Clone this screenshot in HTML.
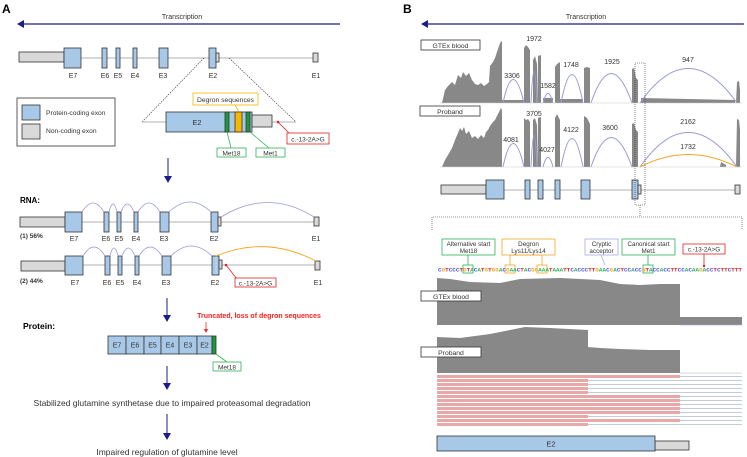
<!DOCTYPE html>
<html><head><meta charset="utf-8"><style>
html,body{margin:0;padding:0;background:#fff;}
svg{display:block;font-family:"Liberation Sans",Arial,sans-serif;}
</style></head><body>
<svg width="747" height="457" viewBox="0 0 747 457" xmlns="http://www.w3.org/2000/svg">
<!-- PANEL A -->
<text x="2" y="13" font-size="12" font-weight="bold">A</text>
<text x="182" y="19" font-size="7" text-anchor="middle" fill="#333">Transcription</text>
<line x1="340" y1="24" x2="22" y2="24" stroke="#1c1c8c" stroke-width="1.2"/>
<path d="M17,24 L24,20 L24,28 Z" fill="#1c1c8c"/>

<g stroke="#333" stroke-width="0.8">
<line x1="64" y1="58" x2="315" y2="58" stroke="#999"/>
<rect x="19" y="52" width="45" height="10" fill="#d9d9d9"/>
<rect x="64" y="48" width="17" height="20" fill="#a8c8e8"/>
<rect x="102" y="48" width="5" height="20" fill="#a8c8e8"/>
<rect x="116" y="48" width="4" height="20" fill="#a8c8e8"/>
<rect x="133" y="48" width="4" height="20" fill="#a8c8e8"/>
<rect x="159" y="48" width="9" height="20" fill="#a8c8e8"/>
<rect x="209" y="48" width="7" height="20" fill="#a8c8e8"/>
<rect x="216" y="53" width="3" height="9" fill="#d9d9d9"/>
<rect x="313" y="53" width="5" height="9" fill="#d9d9d9"/>
</g>
<g font-size="7" text-anchor="middle" fill="#333">
<text x="73" y="78">E7</text><text x="105" y="78">E6</text><text x="118" y="78">E5</text><text x="135" y="78">E4</text><text x="163" y="78">E3</text><text x="213" y="78">E2</text><text x="316" y="78">E1</text>
</g>
<line x1="204" y1="58" x2="142" y2="122" stroke="#333" stroke-width="0.6" stroke-dasharray="1.5,1"/>
<line x1="229" y1="58" x2="296" y2="122" stroke="#333" stroke-width="0.6" stroke-dasharray="1.5,1"/>
<line x1="142" y1="122" x2="296" y2="122" stroke="#999" stroke-width="0.8"/>
<g stroke="#333" stroke-width="0.8">
<rect x="166" y="112" width="86" height="20" fill="#a8c8e8"/>
<rect x="225" y="112" width="4" height="20" fill="#1a9a3a"/>
<rect x="235" y="112" width="7" height="20" fill="#f5b800"/>
<rect x="246" y="112" width="4" height="20" fill="#1a9a3a"/>
<rect x="252" y="115" width="20" height="12" fill="#d9d9d9"/>
</g>
<text x="197" y="125" font-size="7.5" text-anchor="middle" fill="#333">E2</text>
<rect x="193" y="93" width="65" height="12" fill="#fff" stroke="#f5b800" stroke-width="0.8"/>
<text x="225.5" y="102" font-size="6.8" text-anchor="middle" fill="#333">Degron sequences</text>
<line x1="235" y1="105" x2="239" y2="112" stroke="#f5b800" stroke-width="0.8"/>
<line x1="227" y1="132" x2="231" y2="148" stroke="#2db35a" stroke-width="0.8"/>
<line x1="250" y1="132" x2="269" y2="148" stroke="#2db35a" stroke-width="0.8"/>
<rect x="217" y="148" width="29" height="9" fill="#fff" stroke="#2db35a" stroke-width="0.8"/>
<text x="231.5" y="155.3" font-size="6.5" text-anchor="middle" fill="#333">Met18</text>
<rect x="256" y="148" width="29" height="9" fill="#fff" stroke="#2db35a" stroke-width="0.8"/>
<text x="270.5" y="155.3" font-size="6.5" text-anchor="middle" fill="#333">Met1</text>
<circle cx="278" cy="122" r="1.3" fill="#e02020"/>
<line x1="278" y1="122" x2="290" y2="134" stroke="#e02020" stroke-width="0.8"/>
<rect x="287" y="133" width="42" height="11" fill="#fff" stroke="#e02020" stroke-width="0.8"/>
<text x="308" y="141.3" font-size="6.5" text-anchor="middle" fill="#333">c.-13-2A&gt;G</text>
<rect x="17" y="98" width="98" height="48" fill="#fff" stroke="#333" stroke-width="0.8"/>
<rect x="22" y="105" width="18" height="15" fill="#a8c8e8" stroke="#333" stroke-width="0.8"/>
<rect x="22" y="124" width="18" height="15" fill="#d9d9d9" stroke="#333" stroke-width="0.8"/>
<text x="46" y="115" font-size="6.7" fill="#333">Protein-coding exon</text>
<text x="46" y="133" font-size="6.7" fill="#333">Non-coding exon</text>

<line x1="168" y1="158" x2="168" y2="177" stroke="#1c1c8c" stroke-width="1"/>
<path d="M164,176 L172,176 L168,183 Z" fill="#1c1c8c"/>

<text x="20" y="203" font-size="8" font-weight="bold">RNA:</text>
<!-- row 1 -->
<g stroke="#333" stroke-width="0.8">
<line x1="64" y1="222" x2="316" y2="222" stroke="#999"/>
<rect x="20" y="217" width="45" height="10" fill="#d9d9d9"/>
<rect x="65" y="212" width="17" height="20" fill="#a8c8e8"/>
<rect x="104" y="212" width="5" height="20" fill="#a8c8e8"/>
<rect x="117" y="212" width="4" height="20" fill="#a8c8e8"/>
<rect x="134" y="212" width="4" height="20" fill="#a8c8e8"/>
<rect x="160" y="212" width="9" height="20" fill="#a8c8e8"/>
<rect x="211" y="212" width="7" height="20" fill="#a8c8e8"/>
<rect x="218" y="217" width="3" height="9" fill="#d9d9d9"/>
<rect x="314" y="217" width="5" height="9" fill="#d9d9d9"/>
</g>
<g fill="none" stroke="#9999e0" stroke-width="0.8">
<path d="M82,212 Q93,194 104,212"/><path d="M109,212 Q113,196 117,212"/><path d="M121,212 Q127,196 134,212"/><path d="M138,212 Q149,194 160,212"/><path d="M169,212 Q190,192 211,212"/><path d="M221,217 Q268,188 314,217"/>
</g>
<text x="20" y="238" font-size="6.5" font-weight="bold" fill="#333">(1) 56%</text>
<g font-size="7" text-anchor="middle" fill="#333">
<text x="74" y="241">E7</text><text x="106" y="241">E6</text><text x="119" y="241">E5</text><text x="136" y="241">E4</text><text x="164" y="241">E3</text><text x="214" y="241">E2</text><text x="316" y="241">E1</text>
</g>
<!-- row 2 -->
<g stroke="#333" stroke-width="0.8">
<line x1="65" y1="265" x2="317" y2="265" stroke="#999"/>
<rect x="21" y="261" width="44" height="10" fill="#d9d9d9"/>
<rect x="65" y="256" width="18" height="19" fill="#a8c8e8"/>
<rect x="105" y="256" width="5" height="19" fill="#a8c8e8"/>
<rect x="118" y="256" width="4" height="19" fill="#a8c8e8"/>
<rect x="135" y="256" width="4" height="19" fill="#a8c8e8"/>
<rect x="162" y="256" width="9" height="19" fill="#a8c8e8"/>
<rect x="212" y="256" width="7" height="19" fill="#a8c8e8"/>
<rect x="219" y="260" width="3" height="9" fill="#d9d9d9"/>
<rect x="315" y="261" width="5" height="9" fill="#d9d9d9"/>
</g>
<line x1="216" y1="257" x2="216" y2="274" stroke="#fff" stroke-width="0.6" stroke-dasharray="1,1"/>
<g fill="none" stroke="#9999e0" stroke-width="0.8">
<path d="M83,256 Q94,238 105,256"/><path d="M110,256 Q114,240 118,256"/><path d="M122,256 Q128,240 135,256"/><path d="M139,256 Q150,238 162,256"/><path d="M171,256 Q191,236 212,256"/>
</g>
<path d="M216,256 Q266,235 316,261" fill="none" stroke="#f5a623" stroke-width="0.9"/>
<circle cx="226" cy="265" r="1.3" fill="#e02020"/>
<line x1="226" y1="265" x2="237" y2="279" stroke="#e02020" stroke-width="0.8"/>
<rect x="235" y="278" width="41" height="9" fill="#fff" stroke="#e02020" stroke-width="0.8"/>
<text x="255.5" y="285.3" font-size="6.5" text-anchor="middle" fill="#333">c.-13-2A&gt;G</text>
<text x="20" y="283" font-size="6.5" font-weight="bold" fill="#333">(2) 44%</text>
<g font-size="7" text-anchor="middle" fill="#333">
<text x="75" y="285">E7</text><text x="107" y="285">E6</text><text x="120" y="285">E5</text><text x="137" y="285">E4</text><text x="166" y="285">E3</text><text x="215" y="285">E2</text><text x="318" y="285">E1</text>
</g>

<line x1="167" y1="298" x2="167" y2="316" stroke="#1c1c8c" stroke-width="1"/>
<path d="M163,315 L171,315 L167,322 Z" fill="#1c1c8c"/>
<text x="23" y="329" font-size="8.5" font-weight="bold">Protein:</text>
<text x="259" y="318" font-size="7" font-weight="bold" text-anchor="middle" fill="#ff2020">Truncated, loss of degron sequences</text>
<line x1="206" y1="322" x2="206" y2="330" stroke="#ff2020" stroke-width="0.8"/>
<path d="M204,329 L208,329 L206,333 Z" fill="#ff2020"/>
<g stroke="#333" stroke-width="0.8" fill="#a8c8e8">
<rect x="108" y="336" width="18" height="18"/><rect x="126" y="336" width="18" height="18"/><rect x="144" y="336" width="17" height="18"/><rect x="161" y="336" width="18" height="18"/><rect x="179" y="336" width="18" height="18"/><rect x="197" y="336" width="15" height="18"/>
<rect x="212" y="336" width="4" height="18" fill="#1a9a3a"/>
</g>
<g font-size="7" text-anchor="middle" fill="#333">
<text x="117" y="347.5">E7</text><text x="135" y="347.5">E6</text><text x="152.5" y="347.5">E5</text><text x="170" y="347.5">E4</text><text x="188" y="347.5">E3</text><text x="204.5" y="347.5">E2</text>
</g>
<line x1="216" y1="354" x2="227" y2="362" stroke="#2db35a" stroke-width="0.8"/>
<rect x="213" y="362" width="28" height="9" fill="#fff" stroke="#2db35a" stroke-width="0.8"/>
<text x="227" y="369.3" font-size="6.5" text-anchor="middle" fill="#333">Met18</text>

<line x1="167" y1="366" x2="167" y2="384" stroke="#1c1c8c" stroke-width="1"/>
<path d="M163,383 L171,383 L167,390 Z" fill="#1c1c8c"/>
<text x="172" y="406" font-size="8.5" text-anchor="middle" fill="#333">Stabilized glutamine synthetase due to impaired proteasomal degradation</text>
<line x1="167" y1="414" x2="167" y2="434" stroke="#1c1c8c" stroke-width="1"/>
<path d="M163,433 L171,433 L167,440 Z" fill="#1c1c8c"/>
<text x="167" y="455" font-size="8.5" text-anchor="middle" fill="#333">Impaired regulation of glutamine level</text>

<!-- PANEL B -->
<text x="403" y="13" font-size="12" font-weight="bold">B</text>
<text x="586" y="19" font-size="7" text-anchor="middle" fill="#333">Transcription</text>
<line x1="744" y1="24" x2="426" y2="24" stroke="#1c1c8c" stroke-width="1.2"/>
<path d="M421,24 L428,20 L428,28 Z" fill="#1c1c8c"/>

<!-- GTEx coverage -->
<g fill="#888">
<path d="M442,103 L445,90 L448,86 L452,82 L455,85 L458,75 L461,78 L463,72 L466,76 L469,73 L472,80 L475,84 L478,85 L481,83 L484,86 L487,84 L489,82 L490,66 L493,62 L495,58 L497,52 L499,46 L501,41 L502,42 L502,103 Z"/>
<path d="M524,103 L524,48 L526,45 L528,47 L530,50 L530,103 Z"/>
<path d="M533,103 L533,60 L535,56 L537,64 L538,103 Z"/>
<path d="M538,103 L538,56 L541,55 L541,103 Z"/>
<path d="M543,103 L543,98 L553,98 L553,103 Z"/>
<path d="M555,103 L555,67 L557,64 L560,62 L560,103 Z"/>
<path d="M560,103 L560,99 L583,99 L583,103 Z"/>
<path d="M584,103 L584,68 L587,67 L590,68 L590,103 Z"/>
<path d="M632,103 L632,69 L634,68 L636,78 L638,80 L638,103 Z"/>
<path d="M641,103 L641,98 L735,100 L735,103 Z"/>
<path d="M736,103 L737,82 L739,81 L740,90 L740,103 Z"/>
<path d="M502,103 L502,100 L524,100 L524,103 Z"/>
</g>
<g fill="none" stroke="#9999e0" stroke-width="1">
<path d="M503,103 Q513,56 524,103"/>
<path d="M531,103 Q534,40 537,103"/>
<path d="M543,103 Q548,84 553,103"/>
<path d="M561,103 Q572,46 583,103"/>
<path d="M591,103 Q611,44 632,103"/>
<path d="M640,103 Q688,34 737,103"/>
</g>
<line x1="440" y1="103" x2="742" y2="103" stroke="#ccc" stroke-width="0.6"/>
<rect x="421" y="40" width="59" height="10" fill="#fff" stroke="#333" stroke-width="0.8"/>
<text x="450.5" y="47.8" font-size="6.8" text-anchor="middle" fill="#333">GTEx blood</text>
<g font-size="7" text-anchor="middle" fill="#333">
<text x="512" y="78">3306</text><text x="534" y="41">1972</text><text x="548" y="88">1582</text><text x="571" y="67">1748</text><text x="612" y="64">1925</text><text x="688" y="62">947</text>
</g>

<!-- Proband coverage -->
<g fill="#888">
<path d="M442,167 L445,160 L448,155 L452,148 L455,140 L458,133 L460,128 L462,131 L464,127 L466,134 L469,131 L472,138 L475,136 L478,139 L481,135 L484,138 L486,132 L488,130 L490,126 L493,122 L495,120 L497,116 L499,112 L501,108 L502,110 L502,167 Z"/>
<path d="M524,167 L524,118 L526,120 L528,119 L530,122 L530,167 Z"/>
<path d="M533,167 L533,120 L535,118 L537,125 L538,167 Z"/>
<path d="M538,167 L538,118 L541,117 L541,167 Z"/>
<path d="M555,167 L555,118 L557,114 L560,120 L560,167 Z"/>
<path d="M584,167 L584,116 L587,118 L590,124 L590,167 Z"/>
<path d="M632,167 L632,124 L634,123 L636,130 L638,132 L638,167 Z"/>
<path d="M720,167 L721,162 L726,165 L726,167 Z"/>
<path d="M736,167 L737,119 L739,120 L740,130 L740,167 Z"/>
</g>
<g fill="none" stroke="#9999e0" stroke-width="1">
<path d="M503,167 Q513,120 524,167"/>
<path d="M531,167 Q534,104 537,167"/>
<path d="M543,167 Q548,148 553,167"/>
<path d="M561,167 Q572,110 583,167"/>
<path d="M591,167 Q611,108 632,167"/>
<path d="M640,167 Q688,98 737,167"/>
</g>
<path d="M640,167 Q688,142 737,167" fill="none" stroke="#f5a623" stroke-width="1.1"/>
<line x1="440" y1="167" x2="742" y2="167" stroke="#ccc" stroke-width="0.6"/>
<rect x="420" y="106" width="60" height="10" fill="#fff" stroke="#333" stroke-width="0.8"/>
<text x="450" y="113.8" font-size="6.8" text-anchor="middle" fill="#333">Proband</text>
<g font-size="7" text-anchor="middle" fill="#333">
<text x="511" y="142">4081</text><text x="534" y="116">3705</text><text x="547" y="152">4027</text><text x="571" y="132">4122</text><text x="610" y="130">3600</text><text x="688" y="124">2162</text><text x="688" y="149">1732</text>
</g>

<!-- gene B -->
<g stroke="#333" stroke-width="0.8">
<line x1="486" y1="190" x2="736" y2="190" stroke="#999"/>
<rect x="441" y="185" width="45" height="9" fill="#d9d9d9"/>
<rect x="486" y="180" width="18" height="19" fill="#a8c8e8"/>
<rect x="525" y="180" width="5" height="19" fill="#a8c8e8"/>
<rect x="538" y="180" width="5" height="19" fill="#a8c8e8"/>
<rect x="555" y="180" width="5" height="19" fill="#a8c8e8"/>
<rect x="581" y="180" width="9" height="19" fill="#a8c8e8"/>
<rect x="632" y="180" width="6" height="19" fill="#a8c8e8"/>
<rect x="638" y="185" width="3" height="9" fill="#d9d9d9"/>
<rect x="735" y="185" width="5" height="9" fill="#d9d9d9"/>
</g>
<rect x="635" y="63" width="10" height="142" fill="none" stroke="#333" stroke-width="0.6" stroke-dasharray="1,1"/>
<path d="M640,205 L640,217 M432,230 L432,217 L742,217 L742,230" fill="none" stroke="#333" stroke-width="0.6" stroke-dasharray="1,1"/>

<!-- labels -->
<g font-size="6.3" text-anchor="middle" fill="#333">
<rect x="442" y="239" width="53" height="16" fill="#fff" stroke="#2db35a" stroke-width="0.8"/>
<text x="468.5" y="246">Alternative start</text><text x="468.5" y="253">Met18</text>
<rect x="502" y="239" width="53" height="16" fill="#fff" stroke="#f5a623" stroke-width="0.8"/>
<text x="528.5" y="246">Degron</text><text x="528.5" y="253">Lys11/Lys14</text>
<rect x="585" y="239" width="33" height="16" fill="#fff" stroke="#a8a8e8" stroke-width="0.8"/>
<text x="601.5" y="246">Cryptic</text><text x="601.5" y="253">acceptor</text>
<rect x="622" y="239" width="53" height="16" fill="#fff" stroke="#2db35a" stroke-width="0.8"/>
<text x="648.5" y="246">Canonical start</text><text x="648.5" y="253">Met1</text>
<rect x="683" y="244" width="42" height="10" fill="#fff" stroke="#e02020" stroke-width="0.8"/>
<text x="704" y="251.5">c.-13-2A&gt;G</text>
</g>
<g stroke-width="0.8" fill="none">
<line x1="468" y1="255" x2="468" y2="265" stroke="#2db35a"/>
<rect x="463" y="265" width="10" height="8" stroke="#2db35a"/>
<line x1="510" y1="255" x2="510" y2="265" stroke="#f5a623"/><line x1="510" y1="255" x2="542" y2="255" stroke="#f5a623"/>
<line x1="542" y1="255" x2="542" y2="265" stroke="#f5a623"/>
<rect x="505" y="265" width="10" height="8" stroke="#f5a623"/>
<rect x="537" y="265" width="10" height="8" stroke="#f5a623"/>
<line x1="601" y1="255" x2="605" y2="265" stroke="#a8a8e8"/>
<line x1="648" y1="255" x2="648" y2="265" stroke="#2db35a"/>
<rect x="643" y="265" width="10" height="8" stroke="#2db35a"/>
<line x1="704" y1="254" x2="704" y2="266" stroke="#e02020"/>
</g>
<circle cx="704" cy="266" r="1.2" fill="#e02020"/>
<text x="438" y="271.5" font-family="Liberation Mono, monospace" font-size="5.5" textLength="304" lengthAdjust="spacingAndGlyphs" font-weight="bold"><tspan fill="#5050e0">C</tspan><tspan fill="#f5a623">G</tspan><tspan fill="#e02020">T</tspan><tspan fill="#5050e0">CCC</tspan><tspan fill="#e02020">T</tspan><tspan fill="#f5a623">G</tspan><tspan fill="#e02020">T</tspan><tspan fill="#2db35a">A</tspan><tspan fill="#5050e0">C</tspan><tspan fill="#2db35a">A</tspan><tspan fill="#e02020">T</tspan><tspan fill="#f5a623">G</tspan><tspan fill="#e02020">T</tspan><tspan fill="#f5a623">GG</tspan><tspan fill="#2db35a">A</tspan><tspan fill="#5050e0">C</tspan><tspan fill="#f5a623">G</tspan><tspan fill="#2db35a">AA</tspan><tspan fill="#5050e0">C</tspan><tspan fill="#e02020">T</tspan><tspan fill="#2db35a">A</tspan><tspan fill="#5050e0">C</tspan><tspan fill="#f5a623">GG</tspan><tspan fill="#2db35a">AAA</tspan><tspan fill="#e02020">T</tspan><tspan fill="#2db35a">AAA</tspan><tspan fill="#e02020">TT</tspan><tspan fill="#5050e0">C</tspan><tspan fill="#2db35a">A</tspan><tspan fill="#5050e0">CCC</tspan><tspan fill="#e02020">TT</tspan><tspan fill="#f5a623">G</tspan><tspan fill="#2db35a">AA</tspan><tspan fill="#5050e0">C</tspan><tspan fill="#f5a623">G</tspan><tspan fill="#2db35a">A</tspan><tspan fill="#5050e0">C</tspan><tspan fill="#e02020">T</tspan><tspan fill="#5050e0">CC</tspan><tspan fill="#2db35a">A</tspan><tspan fill="#5050e0">CC</tspan><tspan fill="#f5a623">G</tspan><tspan fill="#e02020">T</tspan><tspan fill="#2db35a">A</tspan><tspan fill="#5050e0">CC</tspan><tspan fill="#2db35a">A</tspan><tspan fill="#5050e0">CC</tspan><tspan fill="#e02020">TT</tspan><tspan fill="#5050e0">CC</tspan><tspan fill="#2db35a">A</tspan><tspan fill="#5050e0">C</tspan><tspan fill="#2db35a">AA</tspan><tspan fill="#f5a623">G</tspan><tspan fill="#2db35a">A</tspan><tspan fill="#5050e0">CC</tspan><tspan fill="#e02020">T</tspan><tspan fill="#5050e0">C</tspan><tspan fill="#e02020">TT</tspan><tspan fill="#5050e0">C</tspan><tspan fill="#e02020">TTT</tspan></text>

<!-- GTEx zoom coverage -->
<path d="M437,278 L450,279 L470,282 L500,283 L520,279 L560,278 L600,280 L620,284 L640,285 L660,284 L680,284 L680,317 L742,317 L742,325 L437,325 Z" fill="#888"/>
<line x1="680" y1="325" x2="742" y2="325" stroke="#a8a8e8" stroke-width="0.6"/>
<rect x="421" y="291" width="60" height="10" fill="#fff" stroke="#333" stroke-width="0.8"/>
<text x="451" y="298.8" font-size="6.8" text-anchor="middle" fill="#333">GTEx blood</text>
<!-- Proband zoom coverage -->
<path d="M437,337 L460,338 L490,334 L510,330 L525,327 L550,328 L588,330 L588,347 L600,348 L620,349 L650,350 L680,350 L680,373 L437,373 Z" fill="#888"/>
<line x1="680" y1="373" x2="742" y2="373" stroke="#a8a8e8" stroke-width="0.6"/>
<rect x="421" y="347" width="60" height="10" fill="#fff" stroke="#333" stroke-width="0.8"/>
<text x="451" y="354.8" font-size="6.8" text-anchor="middle" fill="#333">Proband</text>
<!-- reads -->
<g>
<rect x="437" y="375" width="243" height="3" fill="#e8a8a8"/><line x1="680" y1="376.5" x2="742" y2="376.5" stroke="#b0bcc4" stroke-width="0.7"/>
<rect x="437" y="379" width="151" height="3" fill="#e8a8a8"/><line x1="588" y1="380.5" x2="742" y2="380.5" stroke="#b0bcc4" stroke-width="0.7"/>
<rect x="437" y="383" width="151" height="3" fill="#e8a8a8"/><line x1="588" y1="384.5" x2="742" y2="384.5" stroke="#b0bcc4" stroke-width="0.7"/>
<rect x="437" y="387" width="151" height="3" fill="#e8a8a8"/><line x1="588" y1="388.5" x2="742" y2="388.5" stroke="#b0bcc4" stroke-width="0.7"/>
<rect x="437" y="391" width="151" height="3" fill="#e8a8a8"/><line x1="588" y1="392.5" x2="742" y2="392.5" stroke="#b0bcc4" stroke-width="0.7"/>
<rect x="437" y="395" width="243" height="3" fill="#e8a8a8"/><line x1="680" y1="396.5" x2="742" y2="396.5" stroke="#b0bcc4" stroke-width="0.7"/>
<rect x="437" y="399" width="243" height="3" fill="#e8a8a8"/><line x1="680" y1="400.5" x2="742" y2="400.5" stroke="#b0bcc4" stroke-width="0.7"/>
<rect x="437" y="403" width="243" height="3" fill="#e8a8a8"/><line x1="680" y1="404.5" x2="742" y2="404.5" stroke="#b0bcc4" stroke-width="0.7"/>
<rect x="437" y="407" width="243" height="3" fill="#e8a8a8"/><line x1="680" y1="408.5" x2="742" y2="408.5" stroke="#b0bcc4" stroke-width="0.7"/>
<rect x="437" y="411" width="243" height="3" fill="#e8a8a8"/><line x1="680" y1="412.5" x2="742" y2="412.5" stroke="#b0bcc4" stroke-width="0.7"/>
<rect x="437" y="415" width="151" height="3" fill="#e8a8a8"/><line x1="588" y1="416.5" x2="742" y2="416.5" stroke="#b0bcc4" stroke-width="0.7"/>
<rect x="437" y="419" width="243" height="3" fill="#e8a8a8"/><line x1="680" y1="420.5" x2="742" y2="420.5" stroke="#b0bcc4" stroke-width="0.7"/>
<rect x="437" y="423" width="151" height="3" fill="#e8a8a8"/><line x1="588" y1="424.5" x2="742" y2="424.5" stroke="#b0bcc4" stroke-width="0.7"/>
</g>
<rect x="655" y="441" width="34" height="9" fill="#d9d9d9" stroke="#333" stroke-width="0.8"/>
<rect x="437" y="436" width="218" height="15" fill="#a8c8e8" stroke="#333" stroke-width="0.8"/>
<text x="551" y="446.5" font-size="7.5" text-anchor="middle" fill="#333">E2</text>
</svg>
</body></html>
